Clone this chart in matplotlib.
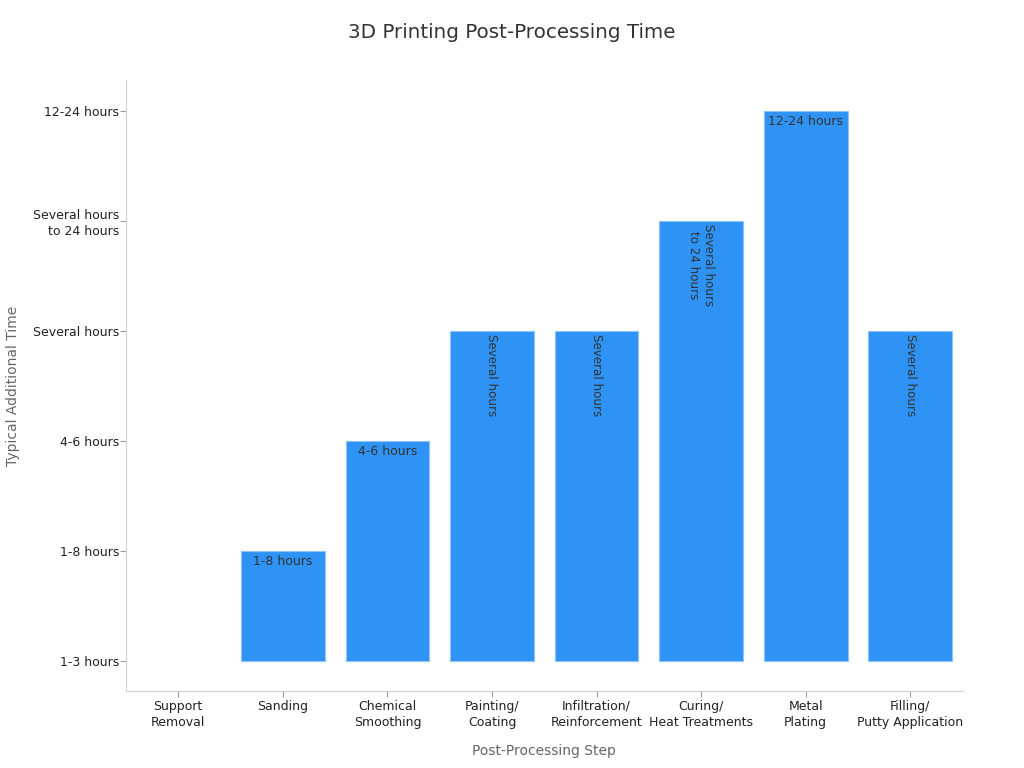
import matplotlib
matplotlib.use("Agg")
import matplotlib.pyplot as plt
import numpy as np

# categories and levels
steps = ["Support\nRemoval", "Sanding", "Chemical\nSmoothing", "Painting/\nCoating",
         "Infiltration/\nReinforcement", "Curing/\nHeat Treatments", "Metal\nPlating",
         "Filling/\nPutty Application"]
levels = ["1-3 hours", "1-8 hours", "4-6 hours", "Several hours",
          "Several hours\nto 24 hours", "12-24 hours"]
values = [0, 1, 2, 3, 3, 4, 5, 3]
bar_labels = ["", "1-8 hours", "4-6 hours", "Several hours", "Several hours",
              "Several hours\nto 24 hours", "12-24 hours", "Several hours"]
vertical = [False, False, False, True, True, True, False, True]

plt.rcParams['font.family'] = ['DejaVu Sans']
fig = plt.figure(figsize=(10.24, 7.68), dpi=100)
ax = fig.add_axes([0.123, 0.100, 0.817, 0.796])

x = np.arange(len(steps))
lw = [0.8 if v > 0 else 0 for v in values]
ax.bar(x, values, width=0.8, color="#2E93F5", edgecolor="#8EC3F8", linewidth=lw)

for i, v in enumerate(values):
    if not bar_labels[i]:
        continue
    if vertical[i]:
        ax.annotate(bar_labels[i], (x[i], v), xytext=(0, -2), textcoords="offset points",
                    rotation=270, ha="center", va="top", fontsize=8.6, color="#333333")
    else:
        ax.annotate(bar_labels[i], (x[i], v), xytext=(0, -3), textcoords="offset points",
                    ha="center", va="top", fontsize=9, color="#333333")

ax.set_xlim(-0.5, 7.5)
ax.set_ylim(-0.27, 5.28)
ax.set_xticks(x)
ax.set_xticklabels(steps, fontsize=9, color="#222222", linespacing=1.3)
ax.set_yticks(range(len(levels)))
ax.set_yticklabels(levels, fontsize=9, color="#222222", linespacing=1.3)
ax.tick_params(colors="#999999", labelcolor="#222222", length=4, pad=2)
ax.tick_params(axis="y", pad=1)

for s in ["top", "right"]:
    ax.spines[s].set_visible(False)
for s in ["left", "bottom"]:
    ax.spines[s].set_color("#D0D0D0")

ax.set_xlabel("Post-Processing Step", fontsize=10, color="#666666", labelpad=11)
ax.set_ylabel("Typical Additional Time", fontsize=10, color="#666666", labelpad=9)
fig.suptitle("3D Printing Post-Processing Time", fontsize=14.3, color="#333333", y=0.97)

fig.savefig("out.png", dpi=100)
